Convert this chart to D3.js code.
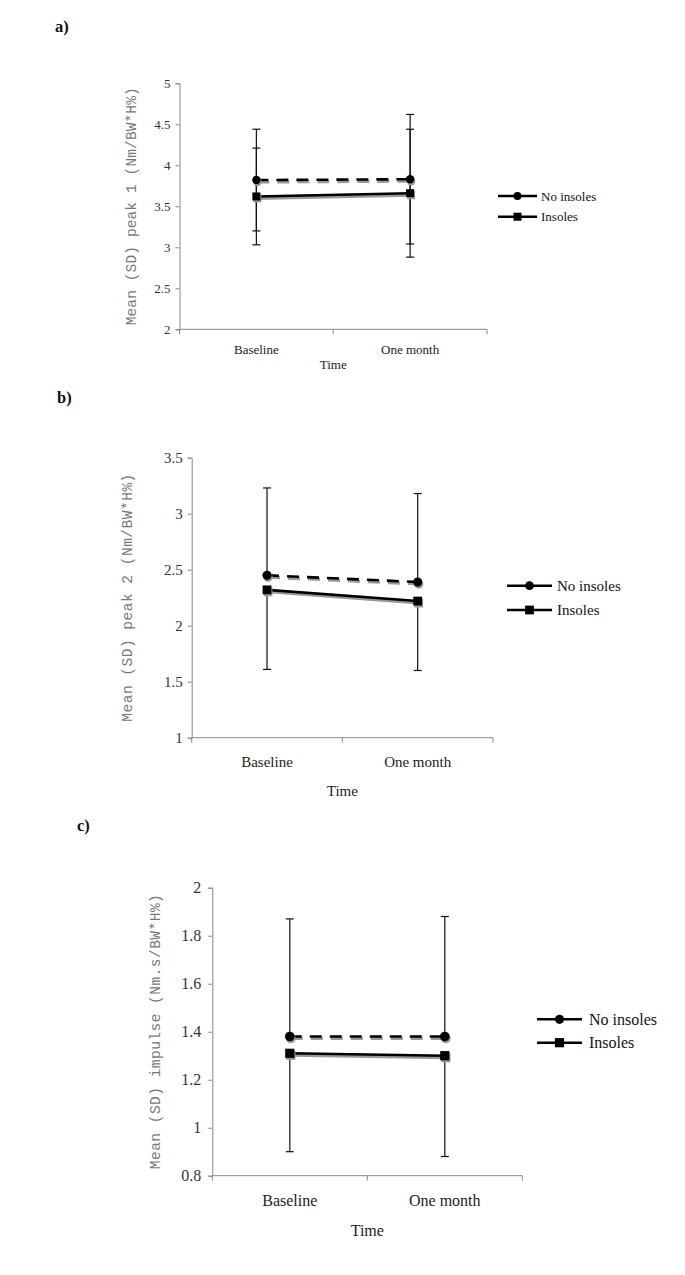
<!DOCTYPE html>
<html><head><meta charset="utf-8">
<script src="https://cdn.jsdelivr.net/npm/d3@7"></script>
<style>body{margin:0;background:#fff}</style>
</head><body>
<script>
// ---- data ----
const categories = ["Baseline", "One month"];
const seriesNames = ["No insoles", "Insoles"];

const peak1Ticks = [2, 2.5, 3, 3.5, 4, 4.5, 5];
const peak1NoInsoles = [3.82, 3.83];
const peak1NoInsolesSD = [0.62, 0.79];
const peak1Insoles = [3.62, 3.66];
const peak1InsolesSD = [0.59, 0.78];

const peak2Ticks = [1, 1.5, 2, 2.5, 3, 3.5];
const peak2NoInsoles = [2.45, 2.39];
const peak2NoInsolesSD = [0.78, 0.79];   // drawn upward only
const peak2Insoles = [2.32, 2.22];
const peak2InsolesSD = [0.71, 0.62];     // drawn downward only

const impulseTicks = [0.8, 1, 1.2, 1.4, 1.6, 1.8, 2];
const impulseNoInsoles = [1.38, 1.38];
const impulseNoInsolesSD = [0.49, 0.50];
const impulseInsoles = [1.31, 1.30];
const impulseInsolesSD = [0.41, 0.42];

// ---- layout ----
const panels = [
  {label: "a)", lx: 55, ly: 32, x0: 179.5, x1: 487, yTop: 83.3, yBot: 329.3,
   ticks: peak1Ticks, no: peak1NoInsoles, noSD: peak1NoInsolesSD, ins: peak1Insoles, insSD: peak1InsolesSD,
   both: true, title: "Mean (SD) peak 1 (Nm/BW*H%)", tx: 131.5, tlen: 238, tfs: 14.5,
   fs: 13, catY: 354, timeY: 369, legX0: 498, legX1: 537, legY: [196, 216.7], legTx: 541, marker: 1,
   tickGap: 9},
  {label: "b)", lx: 57, ly: 403, x0: 191.7, x1: 493, yTop: 457.7, yBot: 737.7,
   ticks: peak2Ticks, no: peak2NoInsoles, noSD: peak2NoInsolesSD, ins: peak2Insoles, insSD: peak2InsolesSD,
   both: false, title: "Mean (SD) peak 2 (Nm/BW*H%)", tx: 127.5, tlen: 248, tfs: 14.5,
   fs: 15, catY: 767, timeY: 796, legX0: 507, legX1: 552, legY: [585.7, 610], legTx: 557, marker: 1.1,
   tickGap: 9},
  {label: "c)", lx: 77, ly: 831, x0: 212.3, x1: 522.3, yTop: 887.7, yBot: 1175.7,
   ticks: impulseTicks, no: impulseNoInsoles, noSD: impulseNoInsolesSD, ins: impulseInsoles, insSD: impulseInsolesSD,
   both: false, title: "Mean (SD) impulse (Nm.s/BW*H%)", tx: 155.8, tlen: 275, tfs: 14.5,
   fs: 16, catY: 1206, timeY: 1236, legX0: 537, legX1: 582, legY: [1019.3, 1042.7], legTx: 589, marker: 1.15,
   tickGap: 11}
];

const W = 685, H = 1275;
const svg = d3.select("body").append("svg").attr("width", W).attr("height", H);
const serif = "'Liberation Serif','Times New Roman',serif";
const mono = "'Liberation Mono','Courier New',monospace";
const axisColor = "#888";

panels.forEach(p => {
  const g = svg.append("g");
  g.append("text").attr("x", p.lx).attr("y", p.ly).text(p.label)
    .attr("font-family", serif).attr("font-weight", "bold").attr("font-size", 16.5).attr("fill", "#111");

  const y = d3.scaleLinear().domain([p.ticks[0], p.ticks[p.ticks.length - 1]]).range([p.yBot, p.yTop]);
  const xb = d3.scaleBand().domain(categories).range([p.x0, p.x1]);
  const x = c => xb(c) + xb.bandwidth() / 2;

  // y axis
  const yAxis = d3.axisLeft(y).tickValues(p.ticks).tickSize(4).tickPadding(p.tickGap - 4)
    .tickFormat(d => String(+d.toFixed(2)));
  const ya = g.append("g").attr("transform", `translate(${p.x0},0)`).call(yAxis);
  ya.select(".domain").attr("stroke", axisColor);
  ya.selectAll(".tick line").attr("stroke", axisColor);
  ya.selectAll(".tick text").attr("font-family", serif).attr("font-size", p.fs).attr("fill", "#333");

  // x axis
  const xa = g.append("g").attr("transform", `translate(0,${p.yBot})`);
  xa.append("line").attr("x1", p.x0).attr("x2", p.x1).attr("stroke", axisColor);
  const xt = [p.x0, ...categories.slice(1).map(c => xb(c)), p.x1];
  xa.selectAll("line.t").data(xt).join("line").attr("class", "t")
    .attr("x1", d => d).attr("x2", d => d).attr("y1", 0).attr("y2", 5).attr("stroke", axisColor);
  g.selectAll("text.cat").data(categories).join("text").attr("class", "cat")
    .attr("x", d => x(d)).attr("y", p.catY).attr("text-anchor", "middle").text(d => d)
    .attr("font-family", serif).attr("font-size", p.fs).attr("fill", "#222");
  g.append("text").attr("x", (p.x0 + p.x1) / 2).attr("y", p.timeY).attr("text-anchor", "middle").text("Time")
    .attr("font-family", serif).attr("font-size", p.fs).attr("fill", "#222");

  // y title
  g.append("text").attr("transform", `translate(${p.tx},${(p.yTop + p.yBot) / 2}) rotate(-90)`)
    .attr("text-anchor", "middle").attr("dominant-baseline", "central")
    .attr("font-family", mono).attr("font-size", p.tfs).attr("fill", "#777")
    .attr("textLength", p.tlen).attr("lengthAdjust", "spacing").text(p.title);

  // error bars
  const cap = 4;
  const eb = g.append("g").attr("stroke", "#111").attr("stroke-width", 1.2);
  categories.forEach((c, i) => {
    const cx = x(c);
    const segs = p.both
      ? [[p.no[i] - p.noSD[i], p.no[i] + p.noSD[i], true, true], [p.ins[i] - p.insSD[i], p.ins[i] + p.insSD[i], true, true]]
      : [[p.no[i], p.no[i] + p.noSD[i], false, true], [p.ins[i] - p.insSD[i], p.ins[i], true, false]];
    segs.forEach(([lo, hi, capLo, capHi]) => {
      eb.append("line").attr("x1", cx).attr("x2", cx).attr("y1", y(lo)).attr("y2", y(hi));
      if (capLo) eb.append("line").attr("x1", cx - cap).attr("x2", cx + cap).attr("y1", y(lo)).attr("y2", y(lo));
      if (capHi) eb.append("line").attr("x1", cx - cap).attr("x2", cx + cap).attr("y1", y(hi)).attr("y2", y(hi));
    });
  });

  // lines with shadow
  const line = d3.line().x((d, i) => x(categories[i])).y(d => y(d));
  const series = [{v: p.no, dash: "12,8"}, {v: p.ins, dash: null}];
  series.forEach(s => {
    g.append("path").attr("d", line(s.v)).attr("fill", "none").attr("stroke", "#999")
      .attr("stroke-width", 3).attr("transform", "translate(1,2)").attr("stroke-dasharray", s.dash);
    g.append("path").attr("d", line(s.v)).attr("fill", "none").attr("stroke", "#000")
      .attr("stroke-width", 2.6).attr("stroke-dasharray", s.dash);
  });
  const m = p.marker;
  categories.forEach((c, i) => {
    g.append("circle").attr("cx", x(c) + 1).attr("cy", y(p.no[i]) + 2).attr("r", 4.2 * m).attr("fill", "#999");
    g.append("circle").attr("cx", x(c)).attr("cy", y(p.no[i])).attr("r", 4.2 * m).attr("fill", "#000");
    const s = 8 * m;
    g.append("rect").attr("x", x(c) - s / 2 + 1).attr("y", y(p.ins[i]) - s / 2 + 2).attr("width", s).attr("height", s).attr("fill", "#999");
    g.append("rect").attr("x", x(c) - s / 2).attr("y", y(p.ins[i]) - s / 2).attr("width", s).attr("height", s).attr("fill", "#000");
  });

  // legend
  seriesNames.forEach((name, k) => {
    const ly = p.legY[k], cx = (p.legX0 + p.legX1) / 2;
    g.append("line").attr("x1", p.legX0).attr("x2", p.legX1).attr("y1", ly).attr("y2", ly)
      .attr("stroke", "#000").attr("stroke-width", 2.4);
    if (k === 0) g.append("circle").attr("cx", cx).attr("cy", ly).attr("r", 4 * m).attr("fill", "#000");
    else { const s = 8 * m; g.append("rect").attr("x", cx - s / 2).attr("y", ly - s / 2).attr("width", s).attr("height", s).attr("fill", "#000"); }
    g.append("text").attr("x", p.legTx).attr("y", ly).attr("dominant-baseline", "central").text(name)
      .attr("font-family", serif).attr("font-size", p.fs).attr("fill", "#111");
  });
});
</script>
</body></html>
